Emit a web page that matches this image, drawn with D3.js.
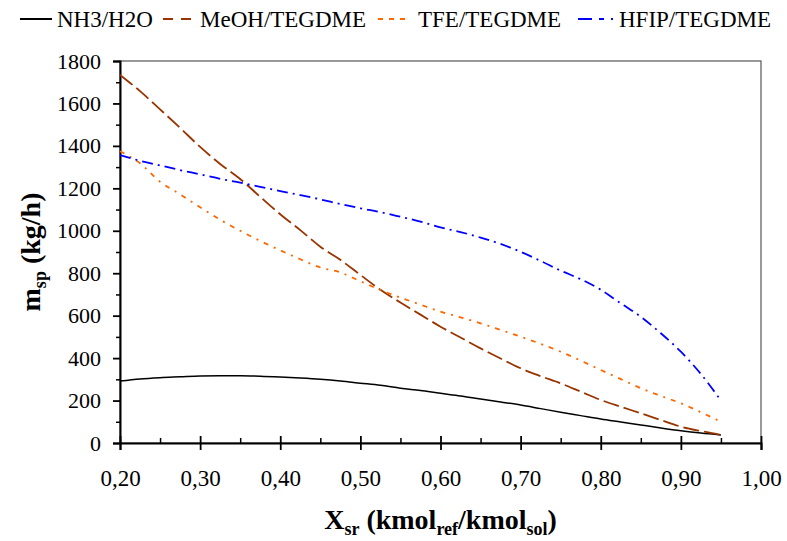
<!DOCTYPE html>
<html>
<head>
<meta charset="utf-8">
<script src="https://cdn.jsdelivr.net/npm/d3@7"></script>
<style>
  body { margin: 0; background: #fff; }
  svg { font-family: "Liberation Serif", "Times New Roman", serif; }
</style>
</head>
<body>
<svg width="787" height="541"></svg>
<script>
// x = Xsr (kmol ref / kmol sol)
var xs = [0.200, 0.225, 0.250, 0.275, 0.300, 0.325, 0.350, 0.375, 0.400, 0.425,
          0.450, 0.475, 0.500, 0.525, 0.550, 0.575, 0.600, 0.625, 0.650, 0.675,
          0.700, 0.725, 0.750, 0.775, 0.800, 0.825, 0.850, 0.875, 0.900, 0.925, 0.950];

var nh3 = [292, 302, 308, 312, 316, 317, 317, 315, 311, 306,
           300, 292, 282, 272, 258, 247, 234, 222, 207, 193,
           179, 162, 145, 129, 113, 99, 85, 71, 58, 47, 38];

var meoh = [1734, 1658, 1572, 1485, 1395, 1315, 1244, 1160, 1078, 1003,
            925, 863, 792, 722, 662, 605, 548, 497, 446, 398,
            352, 315, 281, 242, 203, 171, 140, 108, 77, 56, 38];

var tfe = [1375, 1318, 1231, 1172, 1111, 1052, 1000, 952, 908, 866,
           827, 804, 762, 721, 685, 652, 619, 592, 564, 533,
           501, 467, 430, 388, 344, 301, 258, 222, 187, 145, 100];

var hfip = [1357, 1330, 1308, 1286, 1266, 1245, 1227, 1207, 1187, 1168,
            1148, 1126, 1106, 1088, 1066, 1043, 1016, 994, 968, 938,
            901, 858, 812, 772, 722, 658, 595, 517, 430, 325, 200];

var seriesNames = ["NH3/H2O", "MeOH/TEGDME", "TFE/TEGDME", "HFIP/TEGDME"];
var xTicks = [0.2, 0.3, 0.4, 0.5, 0.6, 0.7, 0.8, 0.9, 1.0];
var yTicks = [0, 200, 400, 600, 800, 1000, 1200, 1400, 1600, 1800];

var styles = [
    {color: "#000000", dash: null, width: 1.5},
    {color: "#993300", dash: "16,5", width: 1.8},
    {color: "#ff6600", dash: "5,6,2,6", width: 1.8},
    {color: "#0000ff", dash: "11,5,2,5", width: 1.8}
];

var svg = d3.select("svg"),
    pLeft = 120, pRight = 761, pTop = 61, pBottom = 443;

var x = d3.scaleLinear().domain([0.2, 1.0]).range([pLeft, pRight]);
var y = d3.scaleLinear().domain([0, 1800]).range([pBottom, pTop]);

var fmt = function(d) { return d3.format(".2f")(d).replace(".", ","); };

// plot frame
svg.append("rect")
    .attr("x", pLeft).attr("y", pTop)
    .attr("width", pRight - pLeft).attr("height", pBottom - pTop)
    .attr("fill", "none").attr("stroke", "#555").attr("stroke-width", 1.2);

// y axis: major ticks outside, minor ticks outside shorter
var yAxis = svg.append("g").attr("transform", "translate(" + pLeft + ",0)")
    .call(d3.axisLeft(y).tickValues(yTicks).tickSize(7).tickPadding(12).tickFormat(d3.format("d")));
yAxis.select(".domain").attr("stroke", "#000").attr("stroke-width", 2);
yAxis.selectAll(".tick line").attr("stroke-width", 1.8);
yAxis.selectAll("text").attr("font-size", 22).attr("fill", "#000").attr("font-family", "Liberation Serif");

svg.append("g").attr("transform", "translate(" + pLeft + ",0)")
    .call(d3.axisLeft(y).tickValues(d3.range(100, 1800, 200)).tickSize(4).tickFormat(""))
    .call(function(g) { g.select(".domain").remove(); })
    .selectAll("line").attr("stroke-width", 1.5);

// x axis: major ticks cross the axis, minor ticks inside
var xAxis = svg.append("g").attr("transform", "translate(0," + pBottom + ")")
    .call(d3.axisBottom(x).tickValues(xTicks).tickSize(7).tickPadding(20).tickFormat(fmt));
xAxis.select(".domain").attr("stroke", "#000").attr("stroke-width", 2);
xAxis.selectAll(".tick line").attr("y1", -7).attr("stroke-width", 1.8);
xAxis.selectAll("text").attr("font-size", 23).attr("fill", "#000").attr("font-family", "Liberation Serif");

svg.append("g").attr("transform", "translate(0," + pBottom + ")")
    .call(d3.axisTop(x).tickValues(d3.range(0.25, 1.0, 0.1)).tickSize(5).tickFormat(""))
    .call(function(g) { g.select(".domain").remove(); })
    .selectAll("line").attr("stroke-width", 1.5);

// curves
var data = [nh3, meoh, tfe, hfip];
var line = d3.line()
    .x(function(d, i) { return x(xs[i]); })
    .y(function(d) { return y(d); })
    .curve(d3.curveMonotoneX);

svg.append("g").selectAll("path")
    .data(data)
    .enter().append("path")
    .attr("d", line)
    .attr("fill", "none")
    .attr("stroke", function(d, i) { return styles[i].color; })
    .attr("stroke-width", function(d, i) { return styles[i].width; })
    .attr("stroke-dasharray", function(d, i) { return styles[i].dash; });

// legend
var legendX = [20, 163, 378, 578];
var legendDash = [null, "10,8", "5,6", "14,7,5,7,2"];
var leg = svg.append("g").selectAll("g")
    .data(seriesNames)
    .enter().append("g")
    .attr("transform", function(d, i) { return "translate(" + legendX[i] + ",19)"; });
leg.append("line")
    .attr("x1", 0).attr("x2", function(d, i) { return i === 3 ? 36 : 32; })
    .attr("stroke", function(d, i) { return styles[i].color; })
    .attr("stroke-width", 2)
    .attr("stroke-dasharray", function(d, i) { return legendDash[i]; });
leg.append("text")
    .attr("x", function(d, i) { return i === 3 ? 41 : (i === 2 ? 40 : 37); })
    .attr("y", 8)
    .attr("font-size", 23)
    .text(function(d) { return d; });

// axis titles
var yt = svg.append("text")
    .attr("transform", "translate(40," + ((pTop + pBottom) / 2) + ") rotate(-90)")
    .attr("text-anchor", "middle")
    .attr("font-size", 28).attr("font-weight", "bold");
yt.append("tspan").text("m");
yt.append("tspan").attr("font-size", 18).attr("dy", 6).text("sp");
yt.append("tspan").attr("dy", -6).text(" (kg/h)");

var xt = svg.append("text")
    .attr("x", (pLeft + pRight) / 2).attr("y", 529)
    .attr("text-anchor", "middle")
    .attr("font-size", 28).attr("font-weight", "bold");
xt.append("tspan").text("X");
xt.append("tspan").attr("font-size", 18).attr("dy", 6).text("sr");
xt.append("tspan").attr("dy", -6).text(" (kmol");
xt.append("tspan").attr("font-size", 18).attr("dy", 6).text("ref");
xt.append("tspan").attr("dy", -6).text("/kmol");
xt.append("tspan").attr("font-size", 18).attr("dy", 6).text("sol");
xt.append("tspan").attr("dy", -6).text(")");
</script>
</body>
</html>
